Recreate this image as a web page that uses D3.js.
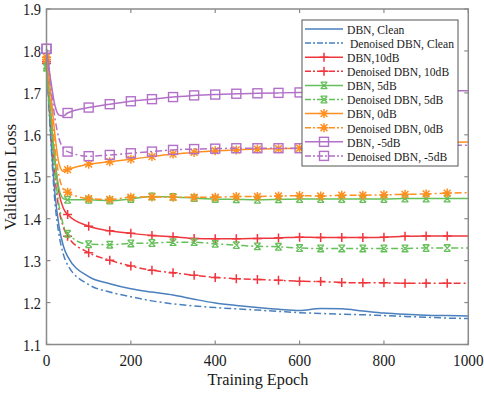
<!DOCTYPE html>
<html>
<head>
<meta charset="utf-8">
<script src="https://cdn.jsdelivr.net/npm/d3@7"></script>
<style>
  body { margin: 0; background: #fff; }
  text { font-family: "Liberation Serif", "Times New Roman", serif; fill: #1a1a1a; }
</style>
</head>
<body>
<div id="chart"></div>
<script>
const epochs = [0, 10, 20, 30, 40, 50, 100, 150, 200, 250, 300, 350, 400, 450, 500,
                550, 600, 650, 700, 750, 800, 850, 900, 950, 1000];

const dbnClean      = [1.78, 1.60, 1.46, 1.38, 1.335, 1.31, 1.262, 1.245, 1.233, 1.225, 1.218, 1.208, 1.199, 1.193, 1.188, 1.184, 1.181, 1.186, 1.185, 1.180, 1.175, 1.172, 1.170, 1.169, 1.168];
const denClean      = [1.78, 1.59, 1.44, 1.36, 1.315, 1.29, 1.243, 1.225, 1.214, 1.204, 1.197, 1.192, 1.188, 1.185, 1.182, 1.179, 1.176, 1.174, 1.172, 1.171, 1.169, 1.167, 1.165, 1.163, 1.162];
const dbn10         = [1.775, 1.65, 1.54, 1.46, 1.425, 1.41, 1.382, 1.371, 1.365, 1.360, 1.357, 1.353, 1.352, 1.352, 1.353, 1.354, 1.356, 1.355, 1.355, 1.355, 1.356, 1.358, 1.359, 1.359, 1.359];
const den10         = [1.77, 1.63, 1.50, 1.42, 1.38, 1.358, 1.319, 1.301, 1.287, 1.277, 1.271, 1.265, 1.260, 1.257, 1.255, 1.253, 1.251, 1.250, 1.248, 1.247, 1.247, 1.246, 1.246, 1.246, 1.246];
const dbn5          = [1.765, 1.65, 1.54, 1.47, 1.448, 1.445, 1.445, 1.443, 1.447, 1.453, 1.452, 1.449, 1.447, 1.446, 1.445, 1.446, 1.447, 1.447, 1.447, 1.447, 1.447, 1.448, 1.448, 1.448, 1.448];
const den5          = [1.76, 1.63, 1.51, 1.43, 1.385, 1.364, 1.339, 1.338, 1.341, 1.342, 1.344, 1.344, 1.340, 1.337, 1.334, 1.333, 1.330, 1.329, 1.329, 1.329, 1.329, 1.329, 1.330, 1.330, 1.330];
const dbn0          = [1.785, 1.70, 1.60, 1.53, 1.513, 1.517, 1.530, 1.536, 1.542, 1.548, 1.554, 1.558, 1.562, 1.564, 1.566, 1.567, 1.568, 1.570, 1.572, 1.574, 1.576, 1.578, 1.580, 1.582, 1.583];
const den0          = [1.78, 1.68, 1.57, 1.50, 1.47, 1.463, 1.448, 1.446, 1.451, 1.452, 1.451, 1.451, 1.451, 1.453, 1.453, 1.454, 1.455, 1.454, 1.456, 1.456, 1.457, 1.458, 1.459, 1.461, 1.462];
const dbnM5         = [1.805, 1.73, 1.67, 1.647, 1.645, 1.652, 1.665, 1.673, 1.680, 1.685, 1.690, 1.694, 1.696, 1.698, 1.699, 1.700, 1.701, 1.702, 1.702, 1.703, 1.703, 1.704, 1.704, 1.705, 1.705];
const denM5         = [1.805, 1.72, 1.64, 1.59, 1.568, 1.560, 1.549, 1.552, 1.556, 1.560, 1.564, 1.566, 1.567, 1.568, 1.568, 1.568, 1.568, 1.569, 1.570, 1.571, 1.572, 1.573, 1.574, 1.575, 1.575];

const seriesNames = ["DBN, Clean", " Denoised DBN, Clean", "DBN,10dB", "Denoised DBN, 10dB",
                     "DBN, 5dB", "Denoised DBN, 5dB", "DBN, 0dB", "Denoised DBN, 0dB",
                     "DBN, -5dB", "Denoised DBN, -5dB"];
const seriesValues = [dbnClean, denClean, dbn10, den10, dbn5, den5, dbn0, den0, dbnM5, denM5];
const seriesColors = ["#4a80bd", "#4a80bd", "#f0363c", "#f0363c", "#66c05a", "#66c05a",
                      "#ff8f1f", "#ff8f1f", "#b370c8", "#b370c8"];
const seriesMarkers = ["none", "none", "plus", "plus", "cross", "cross", "star", "star", "square", "square"];
const seriesDashed = [false, true, false, true, false, true, false, true, false, true];

const xTicks = [0, 200, 400, 600, 800, 1000];
const yTicks = [1.1, 1.2, 1.3, 1.4, 1.5, 1.6, 1.7, 1.8, 1.9];

const width = 484, height = 395;
const pLeft = 46.5, pRight = 468.3, pTop = 9, pBottom = 344.5;

const svg = d3.select('#chart').append('svg')
  .attr('width', width)
  .attr('height', height);

const x = d3.scaleLinear().domain([0, 1000]).range([pLeft, pRight]);
const y = d3.scaleLinear().domain([1.1, 1.9]).range([pBottom, pTop]);

const dashDot = "7,3,2,3";
const axisColor = "#8a8a8a";
// the original picture is a bit squeezed horizontally, text too
const squeeze = 0.9;

// lines
const line = d3.line()
  .x(d => x(d[0]))
  .y(d => y(d[1]))
  .curve(d3.curveMonotoneX);

function drawMarker(g, type, cx, cy, color) {
  const s = 4.5;
  if (type === "plus") {
    g.append('path').attr('d', `M${cx - s},${cy}H${cx + s}M${cx},${cy - s}V${cy + s}`)
      .attr('stroke', color).attr('stroke-width', 1.5).attr('fill', 'none');
  } else if (type === "cross") {
    const c = 3.3;
    g.append('path').attr('d', `M${cx - c},${cy - c}L${cx + c},${cy + c}M${cx - c},${cy + c}L${cx + c},${cy - c}M${cx - c},${cy - c}H${cx + c}M${cx - c},${cy + c}H${cx + c}`)
      .attr('stroke', color).attr('stroke-width', 1.3).attr('fill', 'none');
  } else if (type === "star") {
    const c = 3.4;
    g.append('path').attr('d', `M${cx - s},${cy}H${cx + s}M${cx},${cy - s}V${cy + s}M${cx - c},${cy - c}L${cx + c},${cy + c}M${cx - c},${cy + c}L${cx + c},${cy - c}`)
      .attr('stroke', color).attr('stroke-width', 1.5).attr('fill', 'none');
  } else if (type === "square") {
    g.append('rect').attr('x', cx - 4.5).attr('y', cy - 4.5).attr('width', 9).attr('height', 9)
      .attr('stroke', color).attr('stroke-width', 1.4).attr('fill', 'none');
  }
}

const plot = svg.append('g');

seriesValues.forEach((vals, i) => {
  const pts = epochs.map((e, j) => [e, vals[j]]);
  plot.append('path')
    .datum(pts)
    .attr('d', line)
    .attr('fill', 'none')
    .attr('stroke', seriesColors[i])
    .attr('stroke-width', 1.5)
    .attr('stroke-dasharray', seriesDashed[i] ? dashDot : null);
  if (seriesMarkers[i] !== "none") {
    pts.filter(p => p[0] % 50 === 0 && p[0] < 1000).forEach(p => {
      drawMarker(plot, seriesMarkers[i], x(p[0]), y(p[1]), seriesColors[i]);
    });
  }
});

// axes box with inward ticks
const tickLen = 4;
const axes = svg.append('g').attr('stroke', axisColor).attr('fill', 'none');
axes.append('rect')
  .attr('x', pLeft).attr('y', pTop)
  .attr('width', pRight - pLeft).attr('height', pBottom - pTop)
  .attr('stroke-width', 1.5);

xTicks.forEach(t => {
  axes.append('line').attr('x1', x(t)).attr('x2', x(t)).attr('y1', pBottom).attr('y2', pBottom - tickLen).attr('stroke-width', 1.2);
  axes.append('line').attr('x1', x(t)).attr('x2', x(t)).attr('y1', pTop).attr('y2', pTop + tickLen).attr('stroke-width', 1.2);
});
yTicks.forEach(t => {
  axes.append('line').attr('x1', pLeft).attr('x2', pLeft + tickLen).attr('y1', y(t)).attr('y2', y(t)).attr('stroke-width', 1.2);
  axes.append('line').attr('x1', pRight).attr('x2', pRight - tickLen).attr('y1', y(t)).attr('y2', y(t)).attr('stroke-width', 1.2);
});

// tick labels
svg.append('g').selectAll('text')
  .data(xTicks)
  .join('text')
  .attr('transform', d => `translate(${x(d)},366) scale(0.95,1)`)
  .attr('text-anchor', 'middle')
  .style('font-size', '16px')
  .text(d => d);

svg.append('g').selectAll('text')
  .data(yTicks)
  .join('text')
  .attr('transform', d => `translate(41,${y(d) + 6}) scale(${squeeze},1)`)
  .attr('text-anchor', 'end')
  .style('font-size', '16px')
  .text(d => d.toFixed(1));

// axis titles
svg.append('text')
  .attr('transform', `translate(${(pLeft + pRight) / 2 + 0.5},385) scale(0.93,1)`)
  .attr('text-anchor', 'middle')
  .style('font-size', '17.5px')
  .text('Training Epoch');

svg.append('text')
  .attr('transform', 'translate(16,177) rotate(-90)')
  .attr('text-anchor', 'middle')
  .style('font-size', '17px')
  .text('Validation Loss');

// legend
const lg = svg.append('g');
lg.append('rect')
  .attr('x', 302).attr('y', 20)
  .attr('width', 156).attr('height', 146)
  .attr('fill', '#fff')
  .attr('stroke', '#555')
  .attr('stroke-width', 1);

seriesNames.forEach((name, i) => {
  const ry = 29 + i * 14.1;
  lg.append('line')
    .attr('x1', 305).attr('x2', 343)
    .attr('y1', ry).attr('y2', ry)
    .attr('stroke', seriesColors[i])
    .attr('stroke-width', 1.5)
    .attr('stroke-dasharray', seriesDashed[i] ? "6,2,2,2" : null);
  drawMarker(lg, seriesMarkers[i], 324, ry, seriesColors[i]);
  lg.append('text')
    .attr('transform', `translate(347,${ry + 4.8}) scale(0.86,1)`)
    .style('font-size', '13.5px')
    .style('white-space', 'pre')
    .text(name);
});
</script>
</body>
</html>
